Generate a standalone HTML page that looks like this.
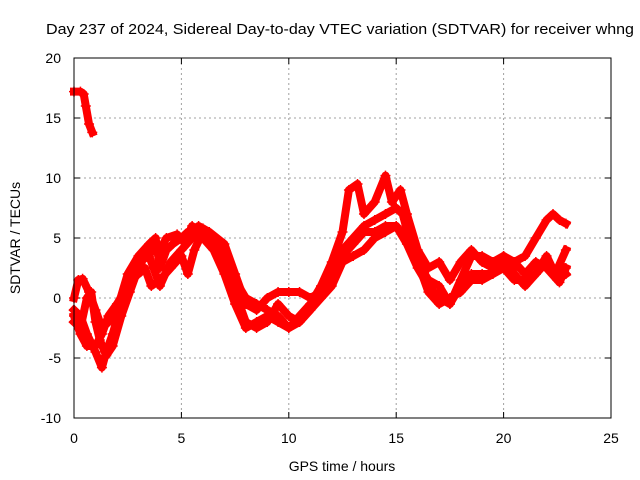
<!DOCTYPE html>
<html><head><meta charset="utf-8">
<style>
html,body{margin:0;padding:0;background:#fff;}
svg{display:block;font-family:"Liberation Sans",sans-serif;}
</style></head>
<body>
<svg id="chart" width="640" height="480" viewBox="0 0 640 480">
<rect width="640" height="480" fill="#fff"/>
<text x="46" y="34" font-size="15" textLength="588" lengthAdjust="spacingAndGlyphs" fill="#000">Day 237 of 2024, Sidereal Day-to-day VTEC variation (SDTVAR) for receiver whng</text>
<g id="grid"></g>
<g id="ticks"></g>
<g id="series"></g>
<rect x="74" y="58" width="537" height="360" fill="none" stroke="#000" stroke-width="1"/>
<text x="342" y="471" font-size="14" text-anchor="middle">GPS time / hours</text>
<text x="20" y="238" font-size="14" text-anchor="middle" transform="rotate(-90 20 238)">SDTVAR / TECUs</text>
</svg>
<script>
const xTicks = [0, 5, 10, 15, 20, 25];
const yTicks = [-10, -5, 0, 5, 10, 15, 20];
const sA_h = [0, 0.3, 0.45, 0.55, 0.7, 0.85];
const sA_v = [17.2, 17.2, 17, 16, 14.5, 13.8];
const s1_h = [0,0.2,0.4,0.7,1,1.3,1.6,2,2.5,3,3.5,3.8,4,4.3,4.6,5,5.3,5.8,6.3,7,7.5,8,8.5,9,9.5,10,10.5,11,11.5,12,12.5,13,13.5,14,14.5,15,15.3,15.6,16,16.5,17,17.5,18,18.5,19,19.5,20,20.5,21,21.5,22,22.3,22.6,22.9];
const s1_v = [0,1.5,1.6,0.5,-1,-2.5,-2,-1,2,3.5,4.5,5,2.5,4,4.5,5,5.5,6,5.5,4.5,2,-0.5,-1,0,0.5,0.5,0.5,0,0.5,2.5,4,5,6,6.5,7,7.5,7,5,3,1.5,1,-0.5,1,2,2,2,3,3,3.5,5,6.5,7,6.5,6.2];
const s2_h = [0,0.3,0.6,1,1.3,1.5,1.8,2.2,2.6,3,3.3,3.6,4,4.5,5,5.3,5.6,6,6.5,7,7.5,8,8.5,9,9.5,10,10.5,11,11.5,12,12.5,13,13.5,14,14.5,15,15.5,16,16.5,17,17.5,18,18.5,19,19.5,20,20.5,21,21.5,22,22.3,22.6,22.9];
const s2_v = [-1,-1.5,-3,-4.5,-5.8,-4.5,-3,-0.5,1.5,2,2.5,1,1.5,2.5,3.5,2,4,5.5,4.5,3,0.5,-2,-2.5,-2,-0.5,-1.5,-2,-1,0,1,3,3.5,4,5,5.5,6,5,3,0.5,-0.5,0,0.5,1.5,1.5,2,2.5,1.5,1.5,2,3,2,1.3,2.5];
const s3_h = [0,0.3,0.6,0.8,1,1.2,1.5,1.8,2.2,2.6,3,3.3,3.7,4,4.3,4.8,5.2,5.5,6,6.5,7,7.5,8,8.5,9,9.5,10,10.5,11,11.5,12,12.5,12.8,13.2,13.5,14,14.5,14.8,15.2,15.5,16,16.5,17,17.5,18,18.5,19,19.5,20,20.5,21,21.5,22,22.4,22.9];
const s3_v = [-2,-2.5,0,0.5,-2,-3.5,-4.8,-4,-1.5,0.5,2.5,3.5,4,4,5,5.3,4.5,6,5,4,2,-0.5,-2.5,-2,-1.5,-2,-2.5,-1.5,-0.5,1,3,5.5,9,9.5,7,8,10.2,8,9,7,4,2.5,3,1.5,3,4,3,2.5,3.5,2,1,2,3.5,2,4];
const s4_h = [0,0.3,0.6,1,1.3,1.6,2,2.5,3,3.5,4,4.5,5,5.5,6,6.5,7,7.5,8,8.5,9,9.5,10,10.5,11,11.5,12,12.5,13,13.5,14,14.5,15,15.5,16,16.5,17,17.5,18,18.5,19,19.5,20,20.5,21,21.5,22,22.5,22.9];
const s4_v = [-1.5,-3,-4,-4,-3,-1.5,-0.5,1,3,3.5,1,3,4,5,5.8,5,3.5,1.5,0,-0.5,-1,-1.5,-2.5,-2,-1,0.5,2,3.5,4.5,5.5,5.5,6,6,4.5,2.5,1,0,-0.5,1.5,3.5,3.5,3,3.5,3,2,3,2.5,1.5,2];

const NS = "http://www.w3.org/2000/svg";
const X0 = 74, X1 = 611, Y0 = 418, Y1 = 58;
const xs = h => X0 + (h - 0) / 25 * (X1 - X0);
const ys = v => Y0 - (v + 10) / 30 * (Y0 - Y1);
const grid = document.getElementById('grid');
const ticks = document.getElementById('ticks');
function mk(tag, attrs, parent){ const e = document.createElementNS(NS, tag); for (const k in attrs) e.setAttribute(k, attrs[k]); parent.appendChild(e); return e; }

xTicks.forEach(t => {
  const x = xs(t);
  if (t > 0 && t < 25) {
    const g = mk('line', {x1:x, x2:x, y1:Y1, y2:Y0, stroke:'#a0a0a0', 'stroke-dasharray':'2,3', 'stroke-width':1}, grid);
    
    
  }
  mk('line', {x1:x, x2:x, y1:Y0, y2:Y0-6, stroke:'#000'}, ticks);
  mk('line', {x1:x, x2:x, y1:Y1, y2:Y1+6, stroke:'#000'}, ticks);
  const l = mk('text', {x:x, y:443, 'font-size':14, 'text-anchor':'middle'}, ticks);
  l.textContent = t;
  
  
});
yTicks.forEach(t => {
  const y = ys(t);
  if (t > -10 && t < 20) {
    const g = mk('line', {x1:X0, x2:X1, y1:y, y2:y, stroke:'#a0a0a0', 'stroke-dasharray':'2,3', 'stroke-width':1}, grid);
    
    
  }
  mk('line', {x1:X0, x2:X0+6, y1:y, y2:y, stroke:'#000'}, ticks);
  mk('line', {x1:X1, x2:X1-6, y1:y, y2:y, stroke:'#000'}, ticks);
  const l = mk('text', {x:61, y:y+5, 'font-size':14, 'text-anchor':'end'}, ticks);
  l.textContent = t;
  
  
});

const seriesG = document.getElementById('series');
const all = [[sA_h,sA_v],[s1_h,s1_v],[s2_h,s2_v],[s3_h,s3_v],[s4_h,s4_v]];
all.forEach(([H,V], i) => {
  const pts = H.map((h,j) => xs(h).toFixed(1) + ',' + ys(V[j]).toFixed(1)).join(' ');
  const pl = mk('polyline', {points:pts, fill:'none', stroke:'#ff0000', 'stroke-width':8, 'stroke-linejoin':'round', 'stroke-linecap':'square'}, seriesG);
  
  
  H.forEach((h,j) => {
    const x = xs(h), y = ys(V[j]);
    const p = mk('path', {d:`M${x-5},${y}H${x+5}M${x},${y-5}V${y+5}`, stroke:'#ff0000', 'stroke-width':1.5}, seriesG);
    
    
  });
});
</script>
</body></html>
